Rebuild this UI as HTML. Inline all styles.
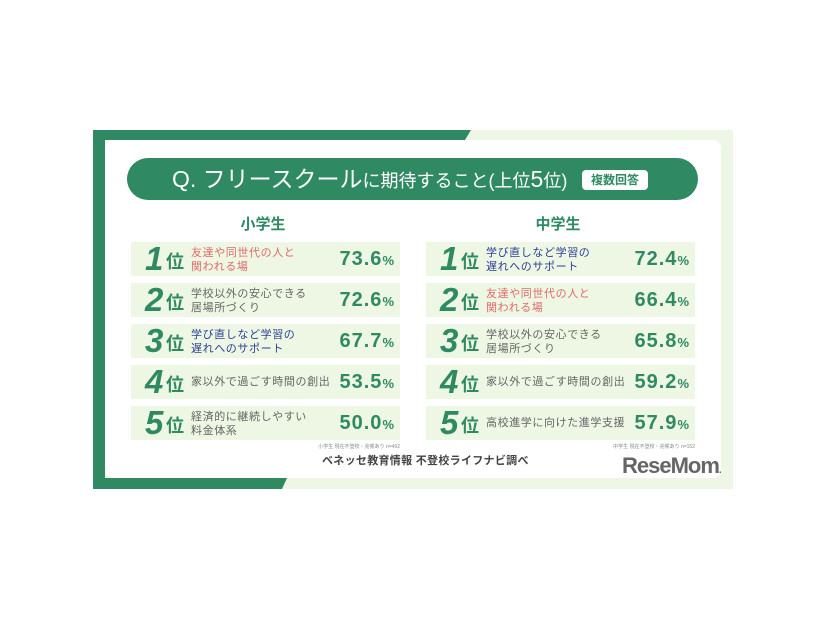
<!DOCTYPE html>
<html><head><meta charset="utf-8"><style>
*{margin:0;padding:0;box-sizing:border-box}
body{width:826px;height:620px;background:#fff;position:relative;overflow:hidden;font-family:"Liberation Sans","Noto Sans CJK JP",sans-serif}
.abs{position:absolute}
.row{position:absolute;width:269px;height:34px;background:#edf7e4}
.rk{position:absolute;left:14px;top:-2px;color:#2f8a63;font-weight:bold;font-style:italic;font-size:33px;line-height:38px}
.i{position:absolute;left:35px;top:9px;color:#2f8a63;font-size:18px;font-weight:bold;line-height:22px}
.d{position:absolute;left:60px;top:4px;font-size:11px;line-height:14px;color:#666;letter-spacing:0.6px}
.d1{top:10px}
.p{position:absolute;right:6px;top:5px;color:#2f8a63;font-weight:bold;font-size:20px;line-height:24px;letter-spacing:1px}
.p small{font-size:13px;letter-spacing:0}
.r{color:#e06a6a}.b{color:#2c3e9a}
</style></head><body>
<div class="abs" style="left:93px;top:130px;width:640px;height:359px;background:#eef7e6"></div>
<svg class="abs" style="left:93px;top:130px" width="640" height="359"><polygon points="0,0 378,0 372,10 12,10 12,348 194,348 189,359 0,359" fill="#2f8a63"/></svg>
<div class="abs" style="left:105px;top:140px;width:616px;height:338px;background:#fff;border-radius:8px"></div>
<div class="abs" style="left:127px;top:158px;width:571px;height:42px;background:#2f8a63;border-radius:21px"></div>
<div class="abs" style="left:172px;top:162px;color:#fff;font-size:23px;line-height:34px;white-space:nowrap">Q. フリースクール<span style="font-size:18px">に期待すること(上位</span>5<span style="font-size:18px">位)</span></div>
<div class="abs" style="left:582px;top:170px;width:66px;height:20px;background:#fff;border-radius:4px;color:#2f8a63;font-size:12px;font-weight:bold;text-align:center;line-height:20px">複数回答</div>
<div class="abs" style="left:213px;top:213px;width:100px;text-align:center;color:#2f8a63;font-size:15px;font-weight:bold">小学生</div>
<div class="abs" style="left:508px;top:213px;width:100px;text-align:center;color:#2f8a63;font-size:15px;font-weight:bold">中学生</div>

<div class="row" style="left:131px;top:242px"><span class="rk">1</span><span class="i">位</span><span class="d r">友達や同世代の人と<br>関われる場</span><span class="p">73.6<small>%</small></span></div>
<div class="row" style="left:131px;top:283px"><span class="rk">2</span><span class="i">位</span><span class="d">学校以外の安心できる<br>居場所づくり</span><span class="p">72.6<small>%</small></span></div>
<div class="row" style="left:131px;top:324px"><span class="rk">3</span><span class="i">位</span><span class="d b">学び直しなど学習の<br>遅れへのサポート</span><span class="p">67.7<small>%</small></span></div>
<div class="row" style="left:131px;top:365px"><span class="rk">4</span><span class="i">位</span><span class="d d1">家以外で過ごす時間の創出</span><span class="p">53.5<small>%</small></span></div>
<div class="row" style="left:131px;top:406px"><span class="rk">5</span><span class="i">位</span><span class="d">経済的に継続しやすい<br>料金体系</span><span class="p">50.0<small>%</small></span></div>

<div class="row" style="left:426px;top:242px"><span class="rk">1</span><span class="i">位</span><span class="d b">学び直しなど学習の<br>遅れへのサポート</span><span class="p">72.4<small>%</small></span></div>
<div class="row" style="left:426px;top:283px"><span class="rk">2</span><span class="i">位</span><span class="d r">友達や同世代の人と<br>関われる場</span><span class="p">66.4<small>%</small></span></div>
<div class="row" style="left:426px;top:324px"><span class="rk">3</span><span class="i">位</span><span class="d">学校以外の安心できる<br>居場所づくり</span><span class="p">65.8<small>%</small></span></div>
<div class="row" style="left:426px;top:365px"><span class="rk">4</span><span class="i">位</span><span class="d d1">家以外で過ごす時間の創出</span><span class="p">59.2<small>%</small></span></div>
<div class="row" style="left:426px;top:406px"><span class="rk">5</span><span class="i">位</span><span class="d d1">高校進学に向けた進学支援</span><span class="p">57.9<small>%</small></span></div>

<div class="abs" style="left:250px;top:443px;width:150px;text-align:right;font-size:5px;color:#888">小学生 現在不登校・兆候あり n=492</div>
<div class="abs" style="left:545px;top:443px;width:150px;text-align:right;font-size:5px;color:#888">中学生 現在不登校・兆候あり n=152</div>
<div class="abs" style="left:322px;top:452px;font-size:11px;font-weight:bold;color:#444;white-space:nowrap;letter-spacing:0.3px">ベネッセ教育情報 不登校ライフナビ調べ</div>
<div class="abs" style="left:622px;top:453px;font-size:22px;font-weight:bold;color:#666;letter-spacing:-1px;line-height:26px">ReseMom<span style="font-size:10px">.</span></div>
</body></html>
